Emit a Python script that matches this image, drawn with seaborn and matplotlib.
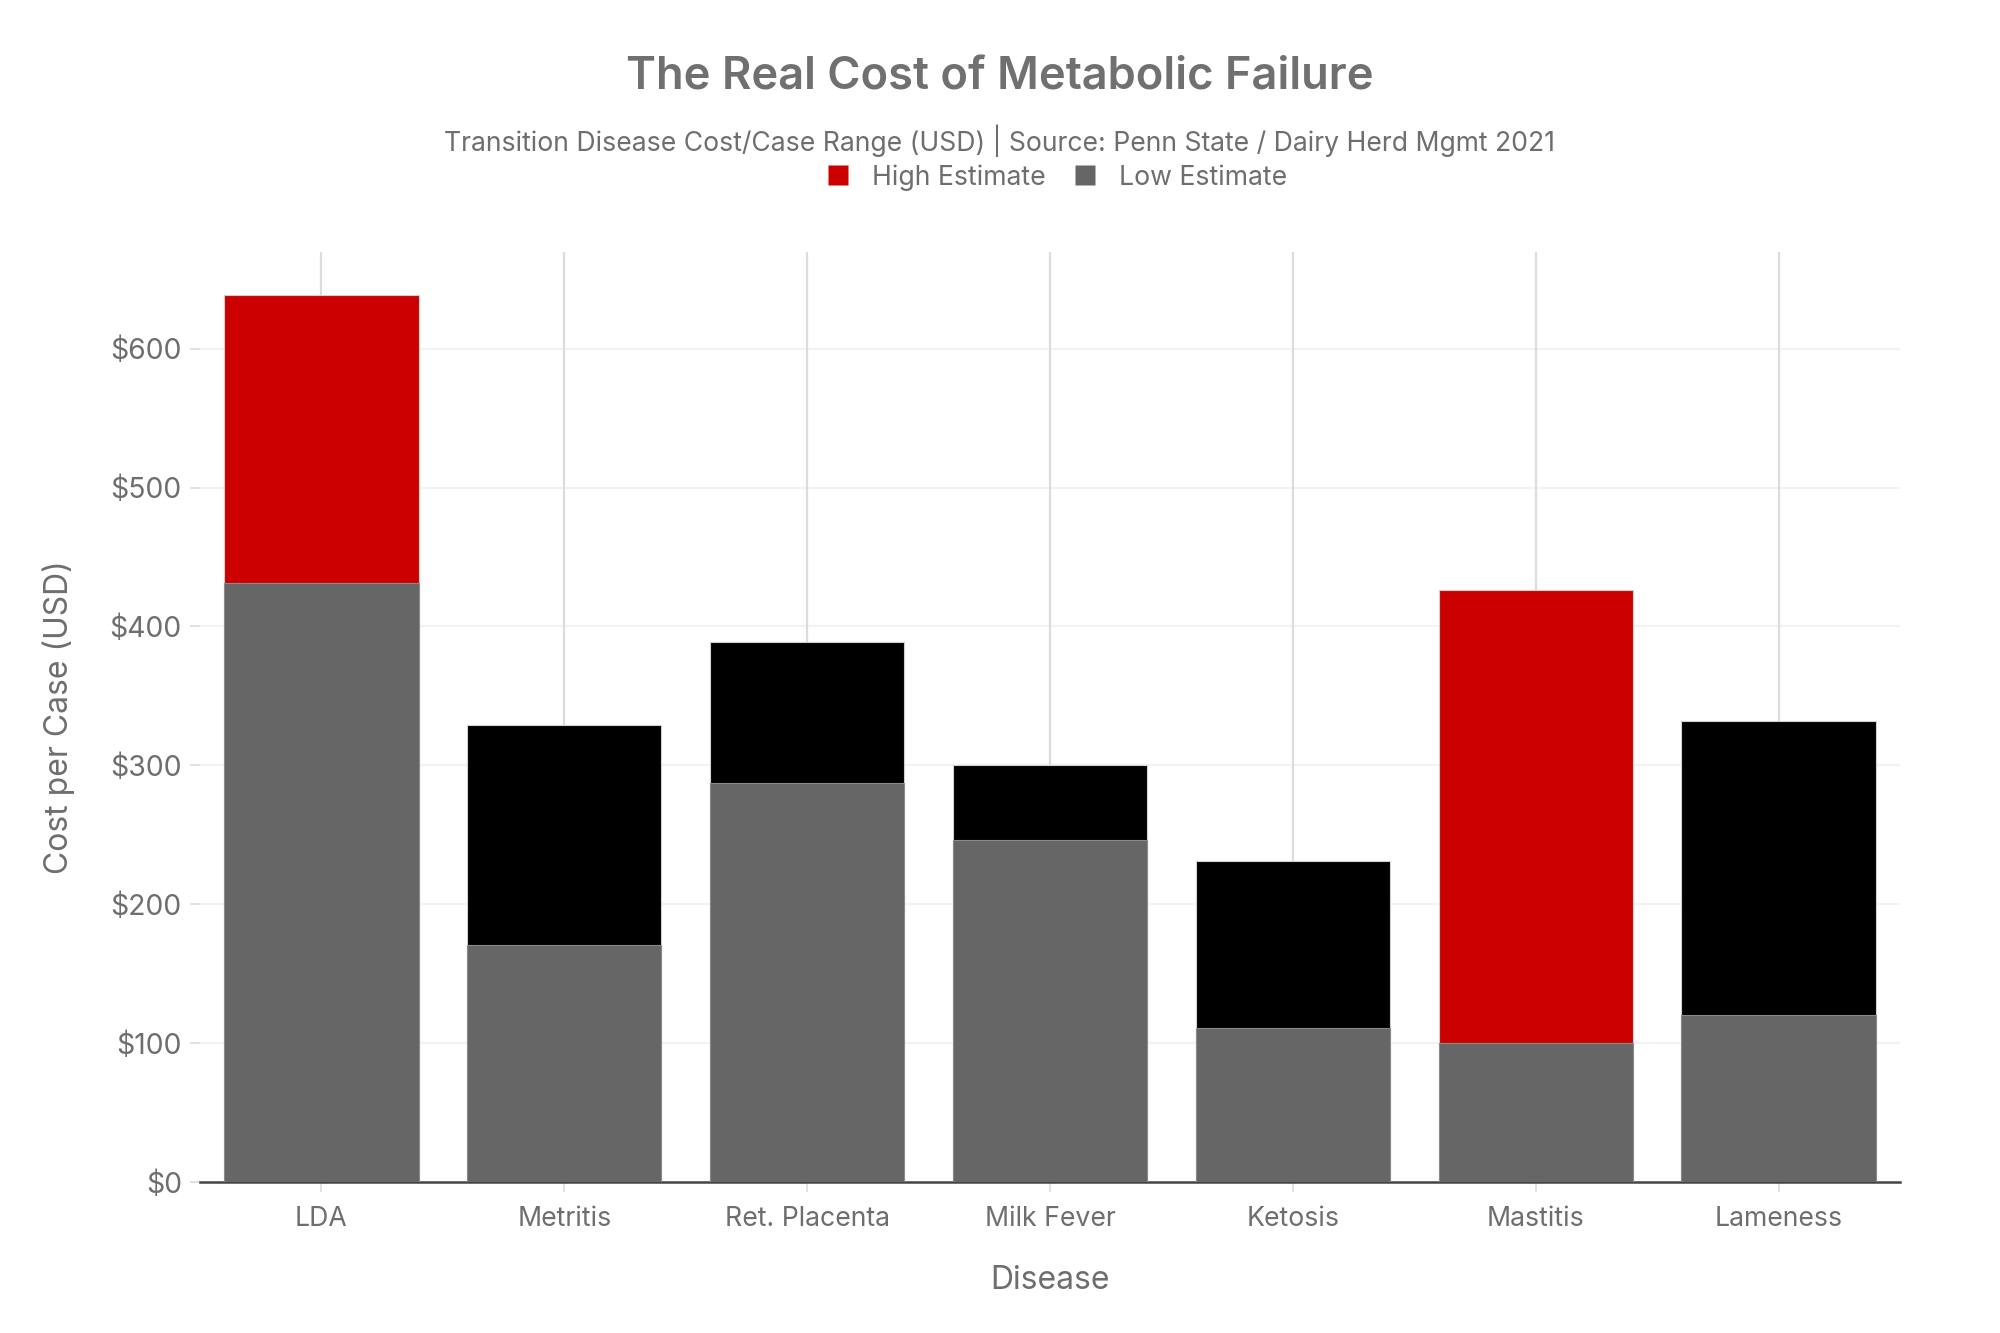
import matplotlib
matplotlib.use("Agg")
import matplotlib.pyplot as plt
import seaborn as sns
import pandas as pd
from matplotlib.lines import Line2D

# Dados
diseases = ["LDA", "Metritis", "Ret. Placenta", "Milk Fever", "Ketosis", "Mastitis", "Lameness"]
low_estimate = [431, 171, 287, 246, 111, 100, 120]
high_estimate = [639, 329, 389, 300, 231, 426, 332]
high_colors = ["#cc0000", "#000000", "#000000", "#000000", "#000000", "#cc0000", "#000000"]
yticks = [0, 100, 200, 300, 400, 500, 600]

df = pd.DataFrame({"disease": diseases, "low": low_estimate, "high": high_estimate})

sns.set_style("white")
plt.rcParams["font.family"] = ["Inter", "DejaVu Sans"]

text_color = "#6e6e6e"
gray = "#666666"

fig = plt.figure(figsize=(10, 6.665), dpi=200)
ax = fig.add_axes([0.100, 0.1133, 0.85, 0.698])

# grade
ax.set_axisbelow(True)
for y in yticks[1:]:
    ax.axhline(y, color="#f3f3f3", lw=0.8, zorder=0)
for i in range(len(diseases)):
    ax.axvline(i, color="#dcdcdc", lw=0.8, zorder=0)

# barra alta (total) e barra baixa por cima
sns.barplot(data=df, x="disease", y="high", hue="disease", palette=high_colors, saturation=1,
            width=0.8, edgecolor="#d0d0d0", linewidth=0.4, legend=False, ax=ax, zorder=2)
sns.barplot(data=df, x="disease", y="low", color=gray, saturation=1,
            width=0.8, edgecolor="#8a8a8a", linewidth=0.4, ax=ax, zorder=3)

ax.set_xlim(-0.5, len(diseases) - 0.5)
ax.set_ylim(0, 670)
ax.set_yticks(yticks)
ax.set_yticklabels([f"${v}" for v in yticks])

for s in ["top", "right", "left"]:
    ax.spines[s].set_visible(False)
ax.spines["bottom"].set_color("#444444")
ax.spines["bottom"].set_linewidth(0.9)

ax.tick_params(axis="y", length=3.5, width=0.6, color="#dddddd", pad=3,
               labelsize=10.2, labelcolor=text_color, left=True)
ax.tick_params(axis="x", length=3.5, width=0.6, color="#dddddd", pad=5,
               labelsize=9.6, labelcolor=text_color, bottom=True)

ax.set_xlabel("Disease", fontsize=11.5, color=text_color, va="center")
ax.xaxis.set_label_coords(0.5, -0.106)
ax.set_ylabel("Cost per Case (USD)", fontsize=11.5, color=text_color, va="center")
ax.yaxis.set_label_coords(-0.083, 0.5)

fig.text(0.5, 0.9417, "The Real Cost of Metabolic Failure", ha="center", va="center",
         fontsize=16.3, fontweight="semibold", color="#707070")
fig.text(0.5, 0.8947, "Transition Disease Cost/Case Range (USD) | Source: Penn State / Dairy Herd Mgmt 2021",
         ha="center", va="center", fontsize=9.55, color=text_color)

handles = [
    Line2D([], [], marker="s", color="none", markerfacecolor="#cc0000", markeredgecolor="none", markersize=7),
    Line2D([], [], marker="s", color="none", markerfacecolor=gray, markeredgecolor="none", markersize=7),
]
fig.legend(handles, ["High Estimate", "Low Estimate"], loc="center", bbox_to_anchor=(0.528, 0.867),
           ncol=2, frameon=False, fontsize=9.6, labelcolor=text_color, handletextpad=0.75,
           columnspacing=1.0, handlelength=1.0)

plt.savefig("out.png", dpi=200)
